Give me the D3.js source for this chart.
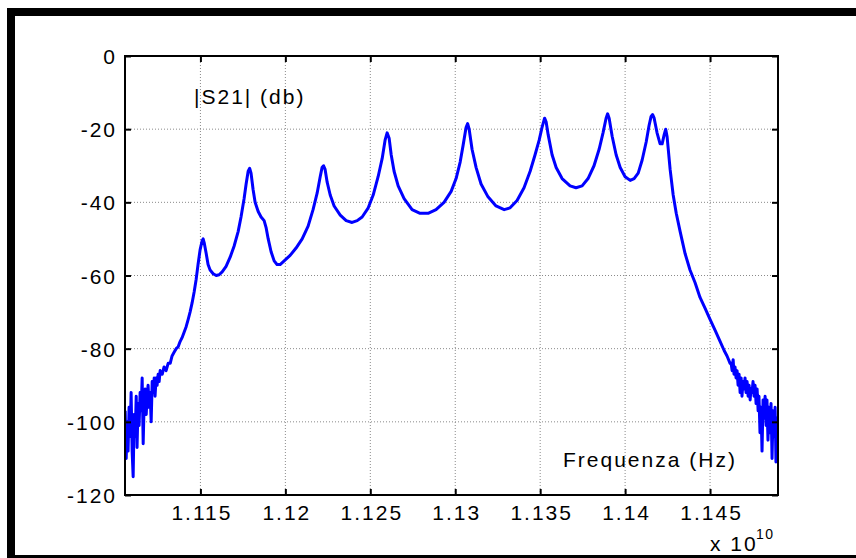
<!DOCTYPE html>
<html><head><meta charset="utf-8">
<script src="https://cdn.jsdelivr.net/npm/d3@7"></script>
<style>
html,body{margin:0;padding:0;background:#fff;}
svg{display:block;}
text{font-family:"Liberation Sans",Arial,Helvetica,sans-serif;fill:#000;}
</style></head>
<body>
<script>
// Frequency in MHz, |S21| in dB
const freqMHz = [
11105.7,11106.3,11106.9,11107.4,11108.0,11108.6,11109.2,11109.8,11110.4,11111.0,
11111.6,11112.2,11112.7,11113.3,11113.9,11114.5,11115.1,11115.7,11116.3,11116.9,
11117.5,11118.1,11118.6,11119.2,11119.8,11120.4,11121.0,11121.6,11122.2,11122.8,
11123.3,11123.9,11124.5,11125.1,11125.7,11126.3,11127.5,11128.6,11129.8,11131.0,
11132.2,11133.3,11134.5,11135.7,11136.9,11138.1,11139.2,11140.4,11141.6,11142.8,
11143.9,11145.1,11146.3,11147.5,11148.6,11149.8,11151.0,11151.6,11152.2,11153.4,
11154.5,11155.7,11157.5,11159.3,11161.0,11162.8,11165.1,11167.5,11169.8,11172.2,
11173.9,11175.7,11176.9,11178.1,11179.0,11179.8,11181.0,11182.2,11184.0,11185.7,
11187.5,11188.7,11189.9,11191.6,11193.4,11195.1,11196.9,11199.3,11202.8,11206.3,
11209.9,11213.4,11216.3,11218.7,11220.5,11221.6,11222.5,11223.4,11224.6,11226.4,
11228.7,11232.3,11235.8,11239.3,11242.3,11245.2,11248.8,11251.7,11254.6,11257.0,
11258.7,11259.9,11261.1,11262.3,11264.0,11266.4,11269.9,11274.6,11279.3,11284.0,
11288.7,11293.4,11297.6,11300.5,11302.9,11304.6,11306.4,11307.3,11308.2,11309.9,
11312.3,11315.2,11319.3,11324.0,11328.8,11332.3,11336.4,11340.5,11344.1,11347.0,
11349.4,11351.1,11352.6,11353.5,11354.7,11357.0,11359.4,11362.9,11367.6,11371.1,
11374.7,11378.2,11381.7,11384.7,11387.0,11388.8,11389.7,11390.6,11392.4,11394.7,
11397.1,11400.0,11403.0,11405.3,11407.7,11410.0,11412.4,11414.1,11415.3,11416.2,
11417.1,11418.8,11420.6,11421.8,11423.0,11423.9,11424.7,11426.5,11428.3,11430.1,
11432.4,11435.3,11438.2,11441.2,11444.1,11447.1,11450.0,11453.0,11455.9,11458.3,
11460.0,11461.8,11462.4,11463.0,11463.6,11464.1,11464.7,11465.3,11465.9,11466.5,
11467.1,11467.7,11468.3,11468.8,11469.4,11470.0,11470.6,11471.2,11471.8,11472.4,
11473.0,11473.6,11474.1,11474.7,11475.3,11475.9,11476.5,11477.1,11477.7,11478.3,
11478.8,11479.4,11480.0,11480.6,11481.2,11481.8,11482.4,11483.0,11483.5,11484.1,
11484.7,11485.3,11485.9,11486.5,11487.1,11487.7,11488.3,11488.8,11489.4,11490.0
];
const s21dB = [
-97,-110,-100,-108,-96,-104,-92,-108,-115,-98,
-104,-93,-107,-95,-101,-92,-97,-88,-106,-94,
-91,-98,-93,-90,-96,-92,-100,-89,-92,-88,
-93,-88,-90,-87,-89,-86,-87,-85,-86,-84,
-84,-82,-81,-80,-79.5,-78,-77,-75.5,-74,-72,
-70,-67.5,-64.5,-61,-57,-53,-50.5,-50,-51,-54,
-57,-58.5,-59.5,-60,-59.8,-59,-57.5,-55,-52,-48,
-44,-39,-35,-31.5,-30.7,-32,-36.5,-40,-42.5,-44,
-45,-47,-50,-53.5,-56,-57,-57,-56,-54.5,-52.5,
-50,-46.5,-42,-37.5,-33,-30.5,-30,-31,-34.5,-38,
-41,-43.5,-45,-45.5,-45,-44,-41.5,-38,-33,-28,
-23,-21,-22.5,-27,-31.5,-35.5,-39,-42,-43,-43,
-42,-40,-37,-33.5,-29,-24.5,-19.5,-18.5,-20,-25.5,
-30.5,-35,-38.5,-41,-42,-41.5,-39.5,-36,-31.5,-27,
-23,-19.5,-17,-18,-21.5,-27,-30.5,-33.5,-35.5,-36,
-35.5,-33.5,-30,-25.5,-21,-17,-15.8,-17,-22,-27,
-30.5,-33,-34,-33.5,-32,-28.5,-23.5,-19,-16.5,-16,
-17,-21,-24,-24,-21.5,-20,-22,-31,-38,-43,
-48,-54,-58.5,-62,-66,-69,-72,-75,-78,-80.5,
-82,-84,-84,-86,-83,-87,-85,-88,-86,-90,
-87,-92,-88,-93,-89,-91,-88,-92,-89,-93,
-90,-94,-91,-92,-89,-93,-90,-95,-91,-97,
-93,-103,-96,-108,-94,-99,-93,-101,-94,-105,
-96,-103,-95,-110,-97,-104,-96,-111,-99,-106
];
const xTickVals = [1.115,1.12,1.125,1.13,1.135,1.14,1.145];
const xTickLabels = ["1.115","1.12","1.125","1.13","1.135","1.14","1.145"];
const yTickVals = [0,-20,-40,-60,-80,-100,-120];
const yTickLabels = ["0","-20","-40","-60","-80","-100","-120"];
const xDomain = [1.11056, 1.1490];
const yDomain = [-120, 0];

const W = 856, H = 558;
const L = 125, R = 778, T = 56, B = 495;

const svg = d3.select("body").append("svg").attr("width", W).attr("height", H);
svg.append("rect").attr("width", W).attr("height", H).attr("fill", "#fff");

// black frame
svg.append("rect").attr("x", 7).attr("y", 8).attr("width", 8).attr("height", H - 8).attr("fill", "#000");
svg.append("rect").attr("x", 7).attr("y", 8).attr("width", W - 7).attr("height", 8).attr("fill", "#000");
svg.append("rect").attr("x", 7).attr("y", 555).attr("width", W - 7).attr("height", 3).attr("fill", "#000");

const x = d3.scaleLinear().domain(xDomain).range([L, R]);
const y = d3.scaleLinear().domain(yDomain).range([B, T]);

// grid
const grid = svg.append("g");
grid.selectAll("line.gx").data(xTickVals).join("line")
  .attr("x1", d => x(d)).attr("x2", d => x(d)).attr("y1", T).attr("y2", B)
  .attr("stroke", "#8a8a8a").attr("stroke-width", 1).attr("stroke-dasharray", "1,2");
grid.selectAll("line.gy").data(yTickVals.filter(v => v > -120 && v < 0)).join("line")
  .attr("x1", L).attr("x2", R).attr("y1", d => y(d)).attr("y2", d => y(d))
  .attr("stroke", "#8a8a8a").attr("stroke-width", 1).attr("stroke-dasharray", "1,2");

// data line
svg.append("clipPath").attr("id", "clip").append("rect")
  .attr("x", L).attr("y", T).attr("width", R - L).attr("height", B - T);
const pts = freqMHz.map((f, i) => [f / 1e4, s21dB[i]]);
const line = d3.line().x(d => x(d[0])).y(d => y(d[1]));
svg.append("path").datum(pts).attr("d", line).attr("clip-path", "url(#clip)")
  .attr("fill", "none").attr("stroke", "#0000ff").attr("stroke-width", 3)
  .attr("stroke-linejoin", "round");

// axes (MATLAB style, inward ticks on all sides)
const tk = 6;
const fmtX = (d, i) => xTickLabels[i];
const fmtY = (d, i) => yTickLabels[i];
const gB = svg.append("g").attr("transform", `translate(0,${B})`)
  .call(d3.axisBottom(x).tickValues(xTickVals).tickSize(-tk).tickFormat(fmtX).tickPadding(tk + 12));
const gT = svg.append("g").attr("transform", `translate(0,${T})`)
  .call(d3.axisTop(x).tickValues(xTickVals).tickSize(-tk).tickFormat(""));
const gL = svg.append("g").attr("transform", `translate(${L},0)`)
  .call(d3.axisLeft(y).tickValues(yTickVals).tickSize(-tk).tickFormat(fmtY).tickPadding(tk + 4));
const gR = svg.append("g").attr("transform", `translate(${R},0)`)
  .call(d3.axisRight(y).tickValues(yTickVals).tickSize(-tk).tickFormat(""));
[gB, gT, gL, gR].forEach(g => {
  g.select(".domain").remove();
  g.selectAll(".tick line").attr("stroke", "#000").attr("stroke-width", 2);
  g.selectAll("text").attr("font-family", '"Liberation Sans",Arial,sans-serif')
    .attr("font-size", 21).attr("letter-spacing", "2px").attr("fill", "#000");
});
gB.selectAll("text").attr("dy", null).attr("y", 25).attr("dx", 1);
gL.selectAll("text").attr("dx", 2).attr("dy", "0.36em");

svg.append("rect").attr("x", L).attr("y", T).attr("width", R - L).attr("height", B - T)
  .attr("fill", "none").attr("stroke", "#000").attr("stroke-width", 2);

// texts
svg.append("text").attr("x", 194).attr("y", 104).attr("font-size", 21)
  .attr("letter-spacing", "2px").text("|S21| (db)");
svg.append("text").attr("x", 563).attr("y", 467).attr("font-size", 21)
  .attr("letter-spacing", "2px").text("Frequenza (Hz)");
svg.append("text").attr("x", 710).attr("y", 551).attr("font-size", 21)
  .attr("letter-spacing", "2px").text("x 10");
svg.append("text").attr("x", 756).attr("y", 539).attr("font-size", 14)
  .attr("letter-spacing", "1.5px").text("10");
</script>
</body></html>
